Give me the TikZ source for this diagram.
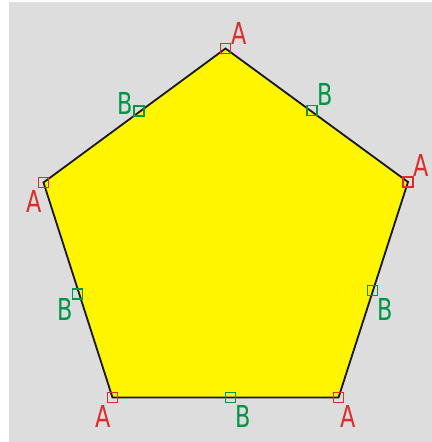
\documentclass[tikz,border=0pt]{standalone}
\usepackage{fontspec}
\newfontfamily\ptfont[FakeStretch=0.74]{DejaVu Sans}
\usepackage{tikz}
\usetikzlibrary{positioning,calc}
\definecolor{bggrey}{RGB}{221,221,221}
\definecolor{penyellow}{RGB}{255,245,0}
\definecolor{ptred}{RGB}{219,45,45}
\definecolor{ptgreen}{RGB}{0,150,70}

\begin{document}
\begin{tikzpicture}[
    x=0.025cm, y=-0.025cm,
    ptbox/.style={rectangle, draw, line width=1.2pt, minimum size=7.3pt, inner sep=0pt},
    vbox/.style={ptbox, draw=ptred},
    ebox/.style={ptbox, draw=ptgreen},
    vlab/.style={font=\ptfont\fontsize{21.5}{21.5}\selectfont, text=ptred, inner sep=0pt},
    elab/.style={vlab, text=ptgreen}
]
    \useasboundingbox (0,0) rectangle (432,442);
    \fill[bggrey] (9,2) rectangle (432,442);

    % pentagon corners
    \coordinate (p1) at (225.5,48.5);
    \coordinate (p2) at (408,182);
    \coordinate (p3) at (338.5,397.5);
    \coordinate (p4) at (112.5,397.5);
    \coordinate (p5) at (43.5,182.5);
    \filldraw[fill=penyellow, draw=black!90, line width=1.3pt, line join=miter]
        (p1) -- (p2) -- (p3) -- (p4) -- (p5) -- cycle;

    % corner points A
    \node[vbox] (a1) at (p1) {};
    \node[vbox] (a2) at (p2) {};
    \node[vbox] (a3) at (p3) {};
    \node[vbox] (a4) at (p4) {};
    \node[vbox] (a5) at (p5) {};
    \node[vlab] (la1) at (239.5,33) {A};
    \node[vlab] (la2) at (421,165.5) {A};
    \node[vlab] (la3) at (348.5,416) {A};
    \node[vlab] (la4) at (103,416) {A};
    \node[vlab] (la5) at (34.5,201.5) {A};

    % edge points B
    \node[ebox] (b1) at (312,110.5) {};
    \node[ebox] (b2) at (372.5,290.5) {};
    \node[ebox] (b3) at (230.5,397.5) {};
    \node[ebox] (b4) at (77.5,294) {};
    \node[ebox] (b5) at (139,111) {};
    \node[elab] (lb1) at (325.5,94.5) {B};
    \node[elab] (lb2) at (385,309.5) {B};
    \node[elab] (lb3) at (243,416) {B};
    \node[elab] (lb4) at (65.5,309.5) {B};
    \node[elab] (lb5) at (125.5,103.5) {B};
\end{tikzpicture}
\end{document}
